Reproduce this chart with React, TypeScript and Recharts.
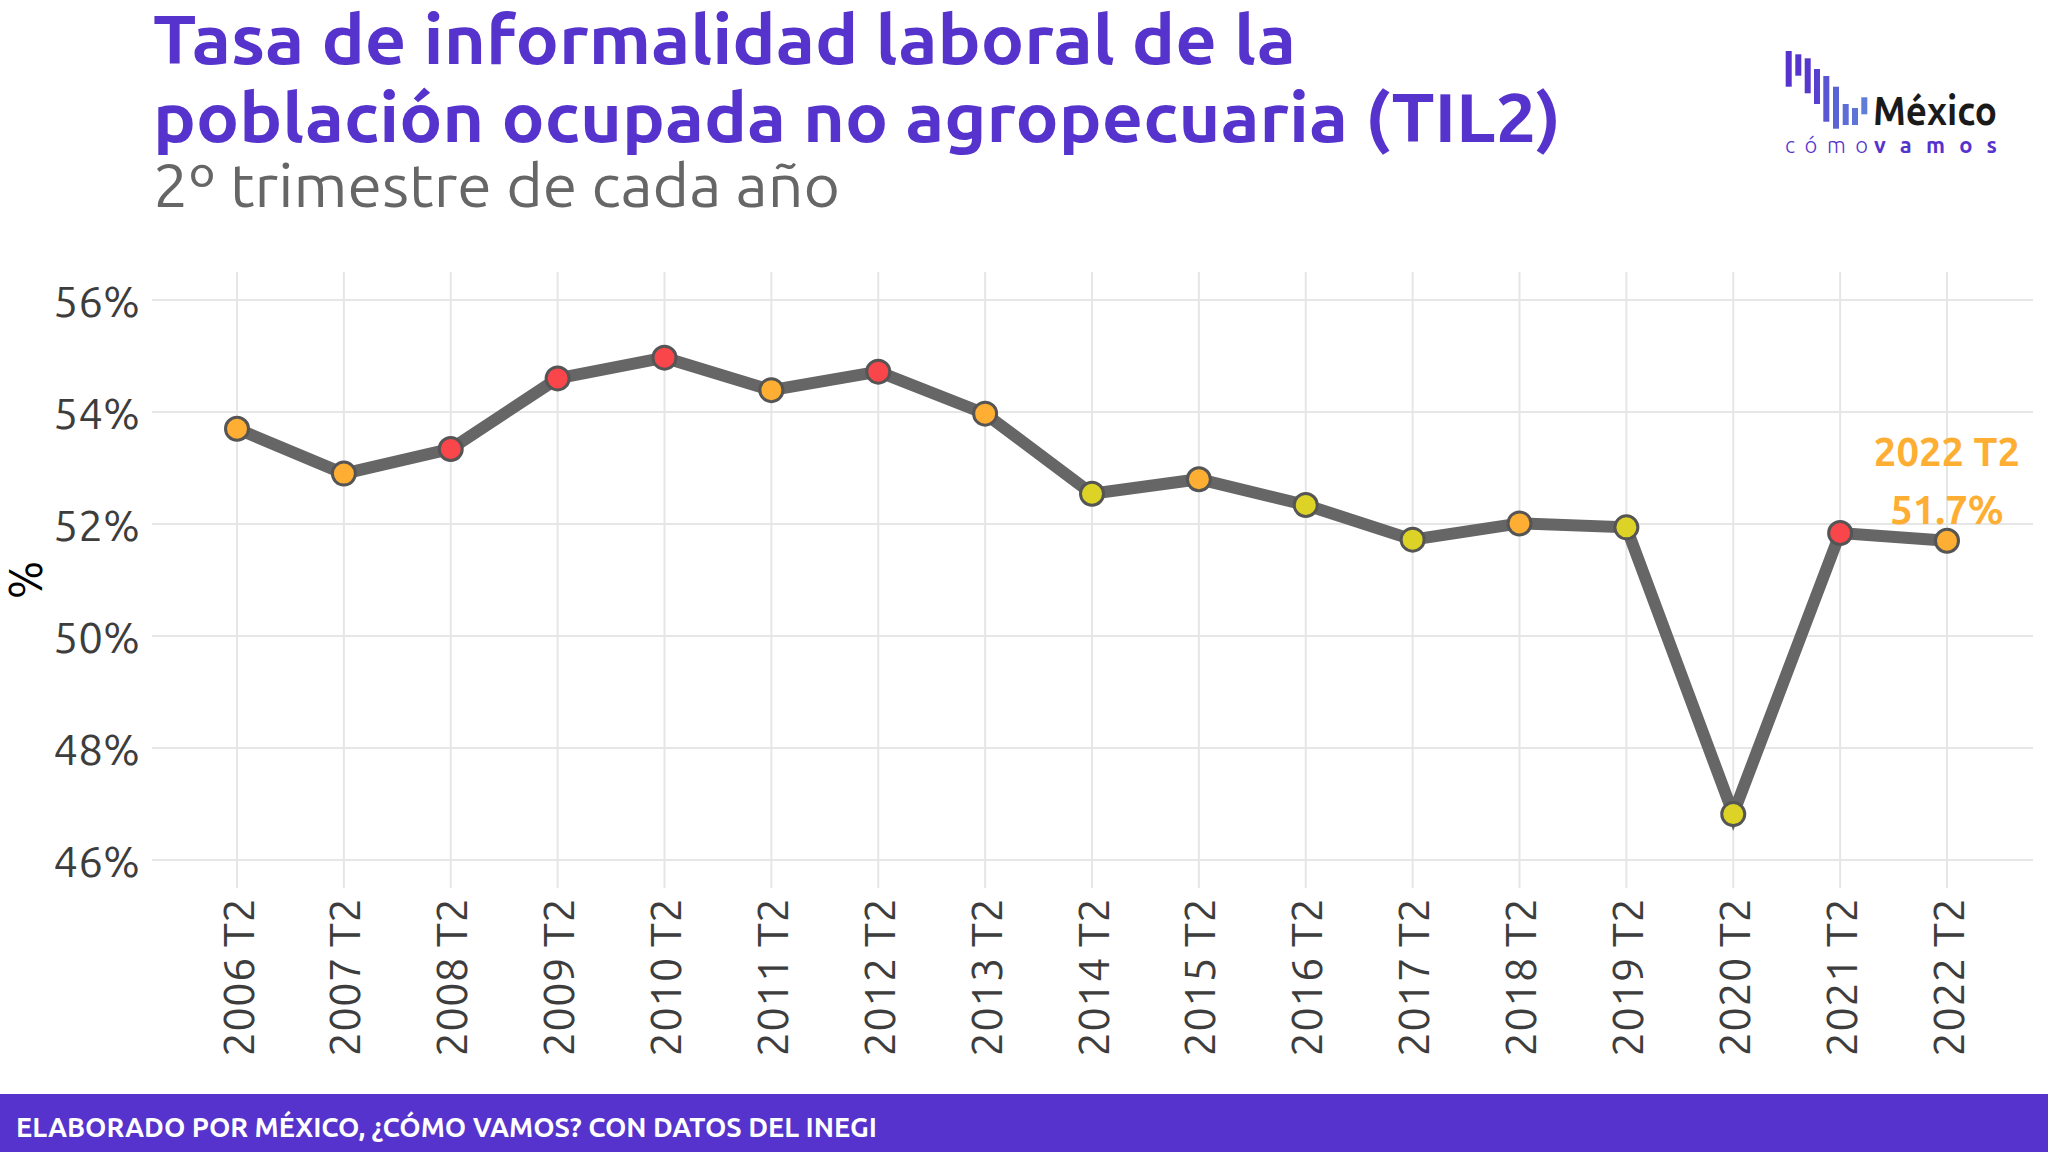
import React from 'react';
import { LineChart, Line, XAxis, YAxis, CartesianGrid } from 'recharts';

const categories = ['2006 T2','2007 T2','2008 T2','2009 T2','2010 T2','2011 T2','2012 T2','2013 T2','2014 T2','2015 T2','2016 T2','2017 T2','2018 T2','2019 T2','2020 T2','2021 T2','2022 T2'];
const til2Values = [53.7, 52.9, 53.34, 54.6, 54.97, 54.39, 54.72, 53.97, 52.54, 52.8, 52.34, 51.72, 52.01, 51.94, 46.82, 51.84, 51.7];
const pointStatus = ['medio','medio','alto','alto','alto','medio','alto','medio','bajo','medio','bajo','bajo','medio','bajo','bajo','alto','medio'];
const yTicks = [46, 48, 50, 52, 54, 56];

const statusColors: Record<string, string> = { alto: '#F8464B', medio: '#FDAE33', bajo: '#DCD326' };

const data = categories.map((c, i) => ({ cat: c, v: til2Values[i], s: pointStatus[i] }));

const PURPLE = '#5533CC';
const FONT = "Ubuntu, 'Open Sans', sans-serif";

const Dot = (props: any) => {
  const { cx, cy, payload, index } = props;
  if (cx == null || cy == null) return null;
  return <circle key={'d' + index} cx={cx} cy={cy} r={11.5} fill={statusColors[payload.s]} stroke="#555555" strokeWidth={3} />;
};

const XTick = (props: any) => {
  const { x, y, payload } = props;
  return (
    <text x={x} y={y} transform={`rotate(-90, ${x}, ${y})`} textAnchor="end" dominantBaseline="central" fontSize={44} fill="#3d3d3d" fontFamily={FONT}>
      {payload.value}
    </text>
  );
};

const YTick = (props: any) => {
  const { x, y, payload } = props;
  return (
    <text x={x} y={y} textAnchor="end" dominantBaseline="central" fontSize={44} fill="#3d3d3d" fontFamily={FONT}>
      {payload.value + '%'}
    </text>
  );
};

const LastLabel = (props: any) => {
  const { x, y, index, value } = props;
  if (index !== categories.length - 1) return null;
  return (
    <g>
      <text x={x} y={y - 75} textAnchor="middle" fontSize={40} fontWeight={700} fill="#FDAE33" fontFamily={FONT}>{categories[index]}</text>
      <text x={x} y={y - 17} textAnchor="middle" fontSize={40} fontWeight={700} fill="#FDAE33" fontFamily={FONT}>{value.toFixed(1) + '%'}</text>
    </g>
  );
};

const logoBars = [
  [1785.7, 51, 86.7, '#5533CC'],
  [1795.3, 54.3, 75.7, '#5535CD'],
  [1804.7, 58.3, 93.3, '#5638CE'],
  [1814, 69, 104, '#5740CF'],
  [1823.3, 76, 121.7, '#5A55D2'],
  [1833, 86.7, 128.7, '#5B62D4'],
  [1842.7, 104, 125, '#5C6DD6'],
  [1852, 108, 125, '#5D75D7'],
  [1861.3, 97.3, 114.3, '#5E7CD8'],
] as const;

export default function App() {
  return (
    <div style={{ position: 'absolute', left: 0, top: 0, width: 2048, height: 1152, background: '#ffffff', overflow: 'hidden' }}>
      <div style={{ position: 'absolute', left: 0, top: 0 }}>
        <LineChart width={2048} height={1152} data={data} margin={{ top: 272, right: 15, left: 0, bottom: 0 }}>
          <CartesianGrid stroke="#e6e6e6" strokeWidth={2} syncWithTicks={true} />
          <XAxis dataKey="cat" type="category" interval={0} height={264} padding={{ left: 85, right: 86 }} tick={<XTick />} tickLine={false} axisLine={false} tickSize={0} tickMargin={10} />
          <YAxis domain={[45.5, 56.5]} ticks={yTicks} width={152} tick={<YTick />} tickLine={false} axisLine={false} tickSize={0} tickMargin={12} />
          <Line dataKey="v" stroke="#666666" strokeWidth={12} dot={<Dot />} activeDot={false} isAnimationActive={false} label={<LastLabel />} />
        </LineChart>
      </div>
      <svg width={2048} height={1152} style={{ position: 'absolute', left: 0, top: 0, pointerEvents: 'none' }}>
        <text x={153} y={64} fontSize={68} fontWeight={700} fill={PURPLE} fontFamily={FONT} textLength={1143} lengthAdjust="spacingAndGlyphs">Tasa de informalidad laboral de la</text>
        <text x={153} y={142} fontSize={68} fontWeight={700} fill={PURPLE} fontFamily={FONT} textLength={1408} lengthAdjust="spacingAndGlyphs">población ocupada no agropecuaria (TIL2)</text>
        <text x={153} y={207} fontSize={60} fill="#666666" fontFamily={FONT} textLength={687} lengthAdjust="spacingAndGlyphs">2º trimestre de cada año</text>
        <text x={25} y={580} transform="rotate(-90, 25, 580)" textAnchor="middle" dominantBaseline="central" fontSize={46} fill="#000000" fontFamily={FONT}>%</text>
        {logoBars.map((b, i) => (
          <rect key={i} x={b[0]} y={b[1]} width={6} height={b[2] - b[1]} fill={b[3]} />
        ))}
        <text x={1873} y={125} fontSize={41} fontWeight={700} fill="#1a1a1a" fontFamily={FONT} textLength={124} lengthAdjust="spacingAndGlyphs">México</text>
        <text x={1785} y={153} fontSize={22} fontWeight={300} fill={PURPLE} fontFamily={FONT} textLength={83} lengthAdjust="spacing">cómo</text>
        <text x={1874} y={153} fontSize={22} fontWeight={700} fill={PURPLE} fontFamily={FONT} textLength={123} lengthAdjust="spacing">vamos</text>
        <rect x={0} y={1094} width={2048} height={58} fill={PURPLE} />
        <text x={16} y={1137} fontSize={27} fontWeight={700} fill="#ffffff" fontFamily={FONT} textLength={861} lengthAdjust="spacingAndGlyphs">ELABORADO POR MÉXICO, ¿CÓMO VAMOS? CON DATOS DEL INEGI</text>
      </svg>
    </div>
  );
}
